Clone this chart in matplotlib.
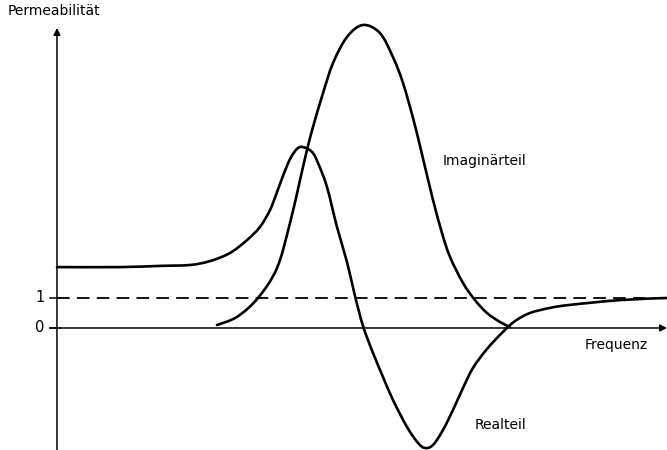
import matplotlib
matplotlib.use("Agg")
import matplotlib.pyplot as plt
from matplotlib.path import Path
from matplotlib.patches import PathPatch

# Frequency axis in arbitrary units (0 .. 10), permeability in units of mu
real_f = [0.000, 1.033, 1.689, 2.180, 2.508, 2.836, 3.115, 3.328, 3.492, 3.607,
          3.705, 3.820, 3.934, 4.033, 4.180, 4.279, 4.426, 4.590, 4.754, 4.885,
          5.016, 5.180, 5.344, 5.508, 5.738, 5.918, 6.033, 6.164, 6.328, 6.492,
          6.656, 6.820, 7.049, 7.311, 7.508, 7.754, 8.082, 8.410, 9.230, 10.0]
real_v = [2.03, 2.03, 2.07, 2.10, 2.23, 2.50, 2.93, 3.37, 3.93, 4.53,
          5.07, 5.63, 5.97, 6.03, 5.87, 5.50, 4.70, 3.37, 2.20, 1.07,
          0.07, -0.83, -1.63, -2.40, -3.30, -3.83, -4.00, -3.90, -3.40, -2.73,
          -2.00, -1.33, -0.70, -0.13, 0.23, 0.50, 0.67, 0.77, 0.93, 1.00]

imag_f = [2.623, 2.951, 3.295, 3.607, 3.820, 3.984, 4.098, 4.197, 4.361, 4.525,
          4.754, 5.016, 5.295, 5.508, 5.672, 5.836, 5.951, 6.148, 6.311, 6.443,
          6.656, 6.852, 7.049, 7.262, 7.426]
imag_v = [0.10, 0.37, 1.00, 2.00, 3.50, 4.93, 5.93, 6.70, 7.83, 8.83,
          9.70, 10.10, 9.83, 9.03, 8.17, 7.00, 6.07, 4.40, 3.17, 2.37,
          1.50, 0.93, 0.50, 0.20, 0.03]

tick_vals = [0, 1]
tick_labels = ["0", "1"]


def smooth_path(xs, ys):
    """Catmull-Rom curve through the given points, as cubic Bezier segments."""
    pts = list(zip(xs, ys))
    n = len(pts)
    verts = [pts[0]]
    codes = [Path.MOVETO]
    for i in range(n - 1):
        p0 = pts[i - 1] if i > 0 else pts[i]
        p1 = pts[i]
        p2 = pts[i + 1]
        p3 = pts[i + 2] if i + 2 < n else pts[i + 1]
        c1 = (p1[0] + (p2[0] - p0[0]) / 6.0, p1[1] + (p2[1] - p0[1]) / 6.0)
        c2 = (p2[0] - (p3[0] - p1[0]) / 6.0, p2[1] - (p3[1] - p1[1]) / 6.0)
        verts += [c1, c2, p2]
        codes += [Path.CURVE4] * 3
    return Path(verts, codes)


fig = plt.figure(figsize=(6.67, 4.5), dpi=100)
ax = fig.add_axes([0, 0, 1, 1])
ax.set_xlim(-0.934, 10.0)
ax.set_ylim(-4.067, 10.933)
ax.axis("off")

lw = 1.9
for xs, ys in [(real_f, real_v), (imag_f, imag_v)]:
    ax.add_patch(PathPatch(smooth_path(xs, ys), facecolor="none", edgecolor="black",
                           lw=lw, capstyle="round", joinstyle="round"))

# reference line mu = 1
ax.plot([0, 10], [1, 1], color="black", lw=1.3, dashes=(7, 4))

# axes with arrows
ax.annotate("", xy=(0, 10.0), xytext=(0, -4.067),
            arrowprops=dict(arrowstyle="-|>", color="black", lw=1.1,
                            mutation_scale=10, shrinkA=0, shrinkB=0))
ax.annotate("", xy=(10.0, 0), xytext=(-0.12, 0),
            arrowprops=dict(arrowstyle="-|>", color="black", lw=1.1,
                            mutation_scale=10, shrinkA=0, shrinkB=0))
for v, t in zip(tick_vals, tick_labels):
    ax.plot([-0.12, 0.05], [v, v], color="black", lw=1.1)
    ax.text(-0.2, v, t, ha="right", va="center", fontsize=10.5)

ax.text(-0.81, 10.55, "Permeabilität", ha="left", va="center", fontsize=10)
ax.text(6.32, 5.55, "Imaginärteil", ha="left", va="center", fontsize=10)
ax.text(6.85, -3.23, "Realteil", ha="left", va="center", fontsize=10)
ax.text(8.65, -0.57, "Frequenz", ha="left", va="center", fontsize=10)

fig.savefig("out.png", dpi=100)
